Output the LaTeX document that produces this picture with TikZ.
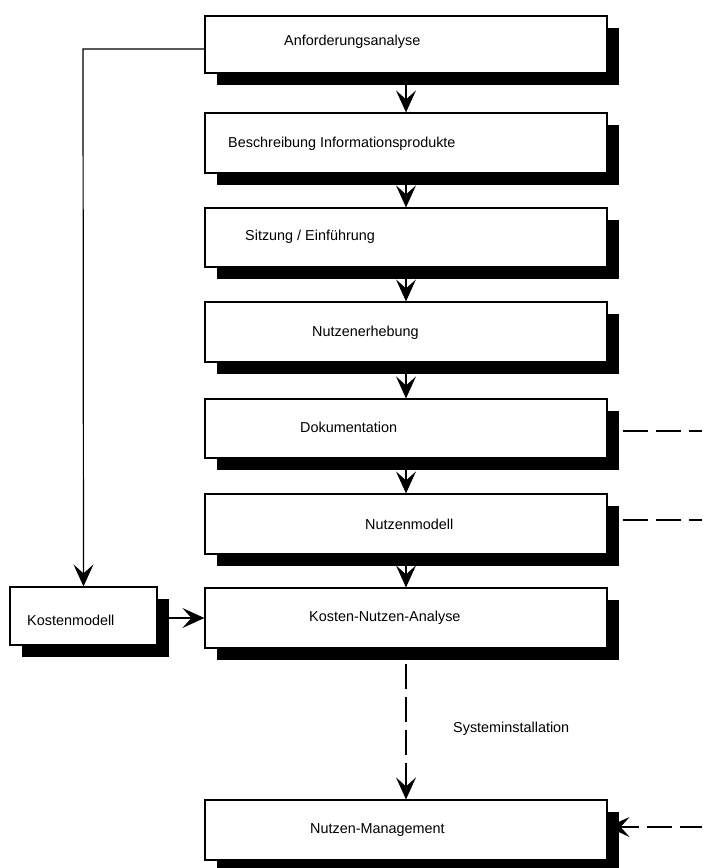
\documentclass[tikz,border=0pt]{standalone}
\usepackage{fontspec}
\setmainfont{Liberation Sans}
\usetikzlibrary{arrows.meta,shadows,backgrounds,calc}
\tikzset{
  box/.style={draw=black, line width=1.2pt, fill=white, minimum width=402pt, minimum height=59pt, inner sep=0pt,
    drop shadow={shadow xshift=12pt, shadow yshift=-12pt, fill=black, opacity=1}},
  txt/.style={anchor=west, inner sep=0pt, font=\fontsize{14.4}{17}\selectfont},
  arr/.style={line width=1.2pt, -{Stealth[length=22pt, width=20pt, inset=9pt]}},
  conn/.style={line width=1.2pt},
  dashline/.style={line width=1.2pt, dash pattern=on 25pt off 8pt},
}
\begin{document}
\begin{tikzpicture}[x=1pt, y=-1pt]
\useasboundingbox (0,0) rectangle (702,868);
% boxes
\node[box, minimum height=57pt] (b1) at (406,44.5) {};
\node[box, minimum height=60pt] (b2) at (406,143) {};
\node[box] (b3) at (406,237.5) {};
\node[box, minimum height=60pt] (b4) at (406,332) {};
\node[box] (b5) at (406,428.5) {};
\node[box, minimum height=60pt] (b6) at (406,524) {};
\node[box, minimum height=60pt] (kna) at (406,618) {};
\node[box, minimum height=60pt] (b8) at (406,830) {};
\node[box, minimum width=147pt, minimum height=58pt] (km) at (83.5,616) {};
% texts
\node[txt] (t1) at (284,42) {Anforderungsanalyse};
\node[txt] (t2) at (228,144) {Beschreibung Informationsprodukte};
\node[txt] (t3) at (245,237) {Sitzung / Einführung};
\node[txt] (t4) at (312,333) {Nutzenerhebung};
\node[txt] (t5) at (300,427) {Dokumentation};
\node[txt] (t6) at (365,524) {Nutzenmodell};
\node[txt] (t7) at (309,618) {Kosten-Nutzen-Analyse};
\node[txt] (t8) at (310,830) {Nutzen-Management};
\node[txt] (tkm) at (27,620) {Kostenmodell};
\node[txt] (tsys) at (453,729) {Systeminstallation};
% free ends
\coordinate (d5) at (702,431);
\coordinate (d6) at (702,520);
\coordinate (d8) at (702,827);
\coordinate (corner) at (83,49);
\begin{scope}[on background layer]
  \draw[arr] (b1.south) -- (b2.north);
  \draw[arr] (b2.south) -- (b3.north);
  \draw[arr] (b3.south) -- (b4.north);
  \draw[arr] (b4.south) -- (b5.north);
  \draw[arr] (b5.south) -- (b6.north);
  \draw[arr] (b6.south) -- (kna.north);
  \draw[arr] (b1.west |- corner) -- (corner) -- (km.north);
  \draw[arr] (km.east |- kna.west) -- (kna.west);
  \draw[dashline] ($(b5.east |- d5)+(15,0)$) -- (d5);
  \draw[dashline] ($(b6.east |- d6)+(15,0)$) -- (d6);
  \draw[dashline, -{Stealth[length=22pt, width=20pt, inset=9pt]}] ($(kna.south)+(0,15)$) -- (b8.north);
  \draw[dashline, dash phase=3pt, -{Stealth[length=22pt, width=20pt, inset=9pt]}] (d8) -- (b8.east |- d8);
\end{scope}
\end{tikzpicture}
\end{document}
